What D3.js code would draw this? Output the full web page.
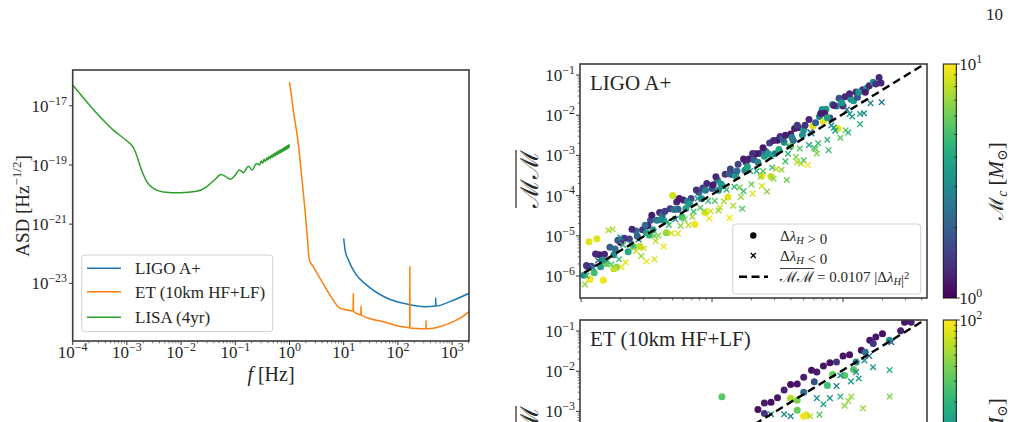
<!DOCTYPE html>
<html><head><meta charset="utf-8">
<script src="https://cdn.jsdelivr.net/npm/d3@7"></script>
<style>
body{margin:0;background:#fff;}
svg text{font-family:"Liberation Serif","DejaVu Serif",serif;fill:#262626;}
</style></head><body>
<svg id="c" width="1014" height="422"></svg>
<script>
// ================= DATA =================
const lisaFreq = [1e-4, 1.81e-4, 3.19e-4, 5.62e-4, 1e-3, 1.32e-3, 1.51e-3, 1.86e-3, 2.34e-3, 3.09e-3, 4.68e-3, 9.55e-3, 0.0195, 0.0295, 0.0422, 0.0545, 0.0676, 0.0822, 0.1, 0.1186, 0.1413, 0.1738, 0.206, 0.245,
  0.28, 0.30, 0.32, 0.34, 0.36, 0.38, 0.40, 0.42, 0.44, 0.46, 0.48, 0.50, 0.52, 0.54, 0.56, 0.58, 0.60, 0.62, 0.64, 0.66, 0.68, 0.70, 0.72, 0.74, 0.76, 0.78, 0.80, 0.82, 0.84, 0.86, 0.88, 0.90, 0.92, 0.94, 0.96, 0.98, 1.00];
const lisaASD = [5.0e-17, 1.38e-17, 4.27e-18, 1.51e-18, 6.46e-19, 3.89e-19, 2.14e-19, 6.76e-20, 2.69e-20, 1.62e-20, 1.23e-20, 1.15e-20, 1.29e-20, 1.82e-20, 3.24e-20, 4.79e-20, 3.98e-20, 3.31e-20, 4.57e-20, 6.76e-20, 5.5e-20, 9.1e-20, 6.76e-20, 1.12e-19,
  1.0e-19, 1.355e-19, 1.15e-19, 1.55e-19, 1.31e-19, 1.75e-19, 1.47e-19, 1.95e-19, 1.62e-19, 2.14e-19, 1.78e-19, 2.34e-19, 1.94e-19, 2.54e-19, 2.10e-19, 2.74e-19, 2.26e-19, 2.94e-19, 2.42e-19, 3.16e-19, 2.59e-19, 3.36e-19, 2.75e-19, 3.56e-19, 2.92e-19, 3.77e-19, 3.08e-19, 3.98e-19, 3.24e-19, 4.18e-19, 3.40e-19, 4.40e-19, 3.57e-19, 4.60e-19, 3.74e-19, 4.81e-19, 3.91e-19];
const etFreq = [1.0, 1.175, 1.45, 1.68, 1.93, 2.13, 2.32, 2.75, 3.66, 5.59, 8.55, 14.4, 14.9, 15.0, 15.1, 18.6, 20.7, 20.9, 21.1, 35.2, 53.7, 95, 160, 165, 166, 167, 250, 316, 329, 330, 331, 400, 520, 912, 1400, 2050];
const etASD = [6.46e-17, 7.16e-18, 5.37e-19, 3.98e-20, 3.02e-21, 3.72e-22, 6.17e-23, 3.63e-23, 1.48e-23, 3.98e-24, 1.45e-24, 1.18e-24, 1.17e-24, 4.4e-24, 1.16e-24, 9.1e-25, 8.6e-25, 1.7e-24, 8.5e-25, 6.0e-25, 5.0e-25, 3.7e-25, 3.16e-25, 3.12e-25, 3.6e-23, 3.1e-25, 2.95e-25, 2.9e-25, 2.9e-25, 5.5e-25, 2.9e-25, 2.95e-25, 3.2e-25, 4.5e-25, 6.6e-25, 1.1e-24];
const ligoFreq = [10, 10.6, 12.2, 16.2, 26.6, 62, 145, 316, 495, 498, 501, 912, 2050];
const ligoASD = [3.3e-22, 1.33e-22, 6.2e-23, 2.2e-23, 8.7e-24, 3.2e-24, 2.0e-24, 1.62e-24, 1.7e-24, 3.2e-24, 1.7e-24, 2.4e-24, 4.6e-24];
const curveNames = ["LIGO A+", "ET (10km HF+LF)", "LISA (4yr)"];
const freqTickExps = [-4, -3, -2, -1, 0, 1, 2, 3];
const asdTickExps = [-17, -19, -21, -23];
const mmTickExps = [-1, -2, -3, -4, -5, -6];
const lamTickExps = [-2, -1, 0];
const fitCoef = 0.0107;
const fitLam = [0.005, 10];
const panelTitles = ["LIGO A+", "ET (10km HF+LF)"];
const mcRangeTop = [1, 10];
const mcRangeBottom = [1, 100];

// [|Δλ_H|, MM, M_c, sign of Δλ_H]
const ligoScatter = [
[0.0105,1.05e-6,3.0,1],[0.0107,6.2e-7,7.0,-1],[0.0112,1.7e-6,2.5,1],[0.0115,7.1e-6,9.0,1],[0.0117,8.3e-7,9.5,1],
[0.012,1.74e-6,1.5,1],[0.0126,1.2e-6,5.0,1],[0.0132,8.5e-6,9.0,1],[0.0135,2.45e-6,2.2,-1],[0.0141,1.7e-6,3.5,1],
[0.0148,7.9e-7,9.5,1],[0.0151,3.5e-6,1.3,1],[0.0158,2.4e-6,4.0,-1],[0.0162,1.38e-5,7.5,-1],[0.0174,1.45e-5,7.5,-1],
[0.0166,5.2e-6,2.0,1],[0.0178,3.4e-6,3.0,1],[0.0186,1.66e-6,6.5,1],[0.02,6.8e-6,1.2,1],[0.0204,1.66e-6,9.5,-1],
[0.0209,5.9e-6,4.5,-1],[0.0219,2.2e-6,9.0,-1],[0.02,9.1e-6,3.0,-1],[0.0234,8.3e-6,1.6,1],[0.0251,5.4e-6,5.5,1],
[0.0263,1.32e-5,2.4,1],[0.0282,5.4e-6,8.0,1],[0.0295,1.41e-5,1.4,1],[0.0316,2.3e-6,9.5,-1],[0.0316,1.2e-5,3.5,1],
[0.0339,2.45e-5,1.8,1],[0.0363,2.6e-6,9.0,-1],[0.0363,1.0e-5,6.0,-1],[0.038,2.45e-5,2.6,1],[0.0398,3.8e-5,1.3,1],
[0.0427,5.4e-6,9.5,-1],[0.0427,2.45e-5,4.0,1],[0.0447,1.2e-5,7.0,1],[0.0479,4.7e-5,1.5,1],[0.0501,1.0e-4,8.5,1],
[0.0525,2.6e-5,3.0,-1],[0.055,4.6e-5,2.0,1],[0.0575,1.78e-5,6.5,-1],[0.0603,7.8e-5,1.2,1],[0.0631,4.8e-5,3.8,1],
[0.0661,1.86e-5,8.0,-1],[0.0692,8.5e-5,1.6,1],[0.0724,4.0e-5,5.0,-1],[0.0741,1.95e-5,9.5,1],[0.0794,1.2e-4,2.2,1],
[0.0832,8.3e-5,3.2,1],[0.0871,4.1e-5,7.5,-1],[0.0912,2.0e-4,1.3,1],[0.0955,2.7e-5,9.5,-1],[0.1,1.5e-4,1.8,1],
[0.105,7.4e-5,5.5,-1],[0.11,2.45e-4,2.8,1],[0.115,5.0e-5,8.5,-1],[0.12,1.74e-4,4.2,1],[0.126,3.4e-4,1.4,1],
[0.132,9.3e-5,9.0,1],[0.136,2.8e-5,9.5,-1],[0.141,3.4e-4,1.2,1],[0.148,1.66e-4,4.5,-1],[0.158,6.0e-4,1.6,1],
[0.166,9.3e-5,7.0,-1],[0.17,4.7e-5,5.5,-1],[0.178,4.3e-4,3.0,1],[0.191,8.1e-4,1.2,1],[0.2,1.9e-4,6.0,-1],
[0.209,7.8e-4,2.0,1],[0.219,4.1e-4,4.0,-1],[0.229,1.12e-3,1.3,1],[0.24,1.74e-4,8.5,-1],[0.251,9.5e-4,3.5,1],
[0.263,1.26e-4,6.5,-1],[0.275,2.04e-3,1.5,1],[0.288,5.0e-4,5.0,-1],[0.302,1.1e-3,2.5,1],[0.316,2.4e-3,1.1,1],
[0.331,2.95e-3,1.4,1],[0.339,4.4e-4,7.0,-1],[0.355,2.14e-3,3.0,1],[0.372,2.45e-4,6.0,-1],[0.38,1.1e-3,4.5,-1],
[0.398,3.4e-3,1.2,1],[0.417,2.34e-3,2.2,1],[0.437,9.1e-4,6.5,-1],[0.457,4.9e-3,1.3,1],[0.479,6.2e-4,8.0,-1],
[0.501,4.3e-3,3.5,1],[0.501,7.6e-4,5.5,-1],[0.537,5.75e-4,9.5,-1],[0.562,3.8e-3,2.0,-1],[0.589,5.4e-3,9.0,1],
[0.603,1.55e-3,4.5,-1],[0.631,1.12e-3,6.5,-1],[0.661,9.3e-3,2.8,1],[0.692,1.38e-2,3.2,1],[0.708,6.9e-3,9.0,1],
[0.741,1.41e-2,3.5,1],[0.776,1.35e-3,5.0,-1],[0.794,8.5e-3,1.5,1],[0.832,1.86e-2,3.0,1],[0.871,4.1e-3,4.0,-1],
[0.912,4.7e-3,9.0,1],[0.933,2.63e-2,1.8,1],[0.955,2.75e-3,5.5,-1],[1.0,1.7e-2,1.3,1],[1.035,2.9e-2,1.3,1],
[1.047,4.2e-3,6.0,-1],[1.096,3.7e-3,4.5,-1],[1.148,2.5e-2,3.0,1],[1.202,2.3e-2,3.5,1],[1.259,3.8e-2,1.3,1],
[1.349,1.07e-2,3.8,-1],[1.349,6.0e-3,4.5,-1],[1.413,4.3e-2,1.3,1],[1.514,4.7e-2,3.5,1],[1.585,5.4e-2,1.3,1],
[1.698,6.6e-2,3.0,1],[1.884,8.7e-2,1.3,1],[1.95,6.3e-2,1.3,1],[1.972,2.1e-2,2.5,-1],[1.445,1.12e-2,3.2,-1],
[0.011,1.82e-6,1.4,1],[0.0123,1.62e-6,2.8,-1],[0.0138,3.4e-6,1.2,1],[0.0155,2.04e-6,6.0,1],[0.0182,4.7e-6,2.3,1],
[0.0195,2.6e-6,4.8,-1],[0.0214,8.7e-6,1.4,1],[0.024,6.2e-6,3.5,-1],[0.0269,9.8e-6,2.0,1],[0.0302,4.9e-6,8.5,-1],
[0.0324,1.78e-5,1.2,1],[0.0355,1.41e-5,4.0,1],[0.0389,1.02e-5,6.5,-1],[0.0417,3.3e-5,2.2,1],[0.0457,2.24e-5,3.5,-1],
[0.049,1.15e-5,8.5,-1],[0.0537,6.9e-5,1.3,1],[0.0589,2.95e-5,5.0,1],[0.0646,7.1e-5,2.6,1],[0.0708,3.0e-5,7.0,-1],
[0.0776,8.5e-5,3.2,-1],[0.0851,1.55e-4,1.5,1],[0.0933,7.4e-5,4.8,-1],[0.102,1.86e-4,1.2,1],[0.112,1.35e-4,3.0,1],
[0.123,7.2e-5,7.5,-1],[0.135,3.5e-4,2.0,1],[0.151,3.1e-4,3.5,1],[0.162,1.58e-4,6.0,-1],[0.182,6.8e-4,1.3,1],
[0.195,4.1e-4,4.2,-1],[0.214,1.1e-3,1.1,1],[0.234,2.95e-4,7.0,-1],[0.257,1.26e-3,2.4,1],[0.282,9.5e-4,3.8,-1],
[0.309,4.6e-4,8.0,-1],[0.347,2.57e-3,2.0,1],[0.389,1.62e-3,3.2,-1],[0.427,4.7e-3,1.2,1],[0.468,1.48e-3,5.5,-1],
[0.513,5.6e-3,1.4,1],[0.575,3.5e-3,3.0,-1],[0.646,2.0e-3,5.0,-1],[0.724,1.12e-2,1.2,1],[0.813,5.6e-3,3.0,-1],
[0.891,1.7e-2,2.6,1],[1.072,1.38e-2,2.5,-1],[1.175,9.3e-3,3.8,-1],[1.288,2.8e-2,1.8,1],
[0.011,1.02e-6,4.5,-1],[0.0129,3.55e-6,1.3,1],[0.0145,2.5e-6,3.2,1],[0.017,1.95e-6,5.5,-1],[0.0191,7.8e-6,1.8,1],
[0.0229,4.0e-6,4.0,1],[0.0245,1.45e-5,1.3,1],[0.0275,8.1e-6,2.8,-1],[0.0288,3.16e-6,7.0,-1],[0.0309,1.82e-5,2.2,1],
[0.0331,1.05e-5,4.5,1],[0.0347,3.24e-5,1.2,1],[0.0372,7.4e-6,8.0,-1],[0.0407,2.5e-5,3.0,1],[0.0437,4.1e-5,1.5,1],
[0.0468,1.86e-5,5.0,-1],[0.0513,4.5e-5,2.4,1],[0.0562,8.5e-5,1.2,1],[0.0617,2.57e-5,6.0,-1],[0.0676,6.2e-5,3.5,1],
[0.0759,1.38e-4,1.4,1],[0.0813,5.0e-5,5.5,-1],[0.0891,1.35e-4,2.6,1],[0.0977,4.1e-5,8.5,-1],[0.107,2.95e-4,1.3,1],
[0.117,1.95e-4,3.4,1],[0.129,1.41e-4,4.5,-1],[0.138,4.6e-4,1.6,1],[0.145,5.6e-5,7.5,-1],[0.155,4.1e-4,2.2,1],
[0.174,8.1e-4,1.2,1],[0.174,1.29e-4,5.0,-1],[0.186,5.25e-4,3.8,1],[0.204,1.12e-3,1.4,1],[0.204,1.12e-4,9.0,-1],
[0.224,6.8e-4,2.8,1],[0.245,1.55e-3,1.2,1],[0.245,4.1e-4,5.5,-1],[0.269,1.1e-3,3.5,1],[0.295,2.34e-3,1.3,1],
[0.295,2.63e-4,7.0,-1],[0.324,1.41e-3,4.0,1],[0.363,3.16e-3,1.2,1],[0.363,7.1e-4,5.0,-1],[0.407,2.8e-3,2.6,1],
[0.447,5.6e-3,1.5,1],[0.447,6.8e-4,7.5,-1],[0.49,3.24e-3,3.2,1],[0.55,7.8e-3,1.3,1],[0.55,1.82e-3,4.0,-1],
[0.617,6.5e-3,2.0,1],[0.617,1.45e-3,6.0,-1],[0.676,1.1e-2,1.2,1],[0.759,8.7e-3,3.6,1],[0.759,2.45e-3,4.5,-1],
[0.851,1.74e-2,1.3,1],[0.851,4.9e-3,3.8,-1],[0.977,2.04e-2,3.2,1],[1.122,3.4e-2,1.3,1],[1.122,1.07e-2,3.5,-1],
[1.318,3.7e-2,3.2,1],[1.479,3.7e-2,1.2,1],[1.622,2.0e-2,3.0,-1],[1.778,6.0e-2,1.4,1],[0.0263,4.2e-6,8.0,-1],
[0.055,1.15e-5,9.0,-1],[0.112,4.3e-5,7.0,-1],[0.282,3.0e-4,8.0,1],[0.24,3.1e-4,9.5,1],[0.0891,3.8e-5,9.0,1],
[0.0178,1.51e-6,8.0,1],[0.398,1.7e-3,6.0,1]
];
const etScatter = [
[3.16,0.186,1.2,1],[3.31,0.166,1.5,1],[2.95,0.166,1.3,1],[2.75,0.102,1.5,1],[2.26,0.059,10,1],
[2.34,0.0525,5,-1],[2.0,0.085,1.2,1],[1.78,0.071,1.3,1],[1.6,0.059,1.3,1],[1.7,0.049,2.0,1],
[1.38,0.033,1.2,1],[1.455,0.0186,10,-1],[1.585,0.024,6,-1],[1.694,0.0126,10,-1],[2.27,0.0107,20,-1],
[2.27,2.34e-3,40,-1],[1.156,2.34e-3,50,-1],[1.422,1.2e-3,50,-1],[1.028,1.38e-3,45,-1],[1.096,1.82e-3,50,-1],
[1.03,7.8e-3,30,1],[1.202,0.011,30,1],[1.259,0.017,8,1],[1.148,5.6e-3,12,-1],[0.119,2.3e-3,30,1],
[0.224,1.12e-3,1.2,1],[0.251,1.62e-3,1.4,1],[0.282,1.7e-3,1.2,1],[0.316,2.19e-3,1.3,1],[0.355,3.4e-3,1.5,1],
[0.398,4.7e-3,1.2,1],[0.447,4.8e-3,1.3,1],[0.501,7.1e-3,1.5,1],[0.575,0.0105,1.2,1],[0.631,9.5e-3,1.4,1],
[0.708,0.0135,1.3,1],[0.794,0.0162,1.2,1],[0.891,0.017,2.0,1],[1.0,0.024,1.3,1],[1.122,0.0257,1.2,1],
[0.525,8.1e-4,80,1],[0.501,7.6e-4,90,1],[0.447,1.07e-3,35,1],[0.398,2.14e-3,60,1],[0.355,8.5e-4,10,-1],
[0.316,4.3e-4,12,-1],[0.398,7.6e-4,8,-1],[0.631,2.14e-3,10,-1],[0.708,1.51e-3,15,-1],[0.794,2.14e-3,12,-1],
[0.891,4.3e-3,8,-1],[0.562,7.6e-4,60,-1],[0.661,8.3e-4,30,-1],[0.759,4.4e-3,25,1],[0.832,8.3e-3,35,1],
[0.955,7.8e-3,10,-1],[1.259,9.5e-3,8,-1],[0.501,3.0e-3,5,1],[0.603,5.5e-3,3,1],[0.282,8.5e-4,8,-1],
[0.251,8.9e-4,2,1],[0.447,1.9e-3,40,1],[0.955,2.34e-3,20,-1],[1.318,6.6e-3,15,-1],[1.479,0.0295,6,1]
];

// ================= DRAW =================
const svg = d3.select('#c');
const AX = '#333';
const SPINE = '#3c3c3c';
const MINUS = '\u2212';
function addPow(t, e, fs) {
  t.append('tspan').text('10');
  t.append('tspan').attr('font-size', fs * 0.7).attr('dy', -fs * 0.42).text(e < 0 ? MINUS + (-e) : '' + e);
}
const defs = svg.append('defs');

svg.append('text').attr('x', 1003).attr('y', 20).attr('text-anchor', 'end').attr('font-size', 17).text('10');

// ---------- Left panel ----------
const xL = d3.scaleLog().domain([1e-4, 2048]).range([72.7, 469]);
const yL = d3.scaleLog().domain([Math.pow(10, -24.95), Math.pow(10, -15.79)]).range([341, 70]);
defs.append('clipPath').attr('id', 'clipL').append('rect').attr('x', 72.7).attr('y', 70).attr('width', 396.3).attr('height', 271);
const gL = svg.append('g');
const lineL = d3.line().x(d => xL(d[0])).y(d => yL(d[1])).curve(d3.curveMonotoneX);
const series = [
  {f: ligoFreq, a: ligoASD, c: '#1f77b4'},
  {f: etFreq, a: etASD, c: '#ff7f0e'},
  {f: lisaFreq, a: lisaASD, c: '#2ca02c'}
];
const gCurves = gL.append('g').attr('clip-path', 'url(#clipL)');
series.forEach(s => {
  gCurves.append('path').datum(s.f.map((f, i) => [f, s.a[i]]))
    .attr('d', lineL).attr('fill', 'none').attr('stroke', s.c).attr('stroke-width', 1.5);
});
freqTickExps.forEach(e => {
  const x = xL(Math.pow(10, e));
  gL.append('line').attr('x1', x).attr('x2', x).attr('y1', 341).attr('y2', 345).attr('stroke', AX).attr('stroke-width', 1);
  const t = gL.append('text').attr('x', x).attr('y', 358).attr('text-anchor', 'middle').attr('font-size', 17);
  addPow(t, e, 17);
  for (let m = 2; m <= 9; m++) {
    const v = m * Math.pow(10, e);
    if (v > 2048) continue;
    const xm = xL(v);
    gL.append('line').attr('x1', xm).attr('x2', xm).attr('y1', 341).attr('y2', 343.3).attr('stroke', AX).attr('stroke-width', 0.7);
  }
});
asdTickExps.forEach(e => {
  const y = yL(Math.pow(10, e));
  gL.append('line').attr('x1', 72.7).attr('x2', 69).attr('y1', y).attr('y2', y).attr('stroke', AX).attr('stroke-width', 1);
  const t = gL.append('text').attr('x', 67).attr('y', y + 6).attr('text-anchor', 'end').attr('font-size', 17);
  addPow(t, e, 17);
});
gL.append('rect').attr('x', 72.7).attr('y', 70).attr('width', 396.3).attr('height', 271)
  .attr('fill', 'none').attr('stroke', SPINE).attr('stroke-width', 1.6);
const xlab = gL.append('text').attr('x', 271).attr('y', 381).attr('text-anchor', 'middle').attr('font-size', 20);
xlab.append('tspan').attr('font-style', 'italic').text('f');
xlab.append('tspan').text(' [Hz]');
const ylab = gL.append('text').attr('transform', 'translate(29,206) rotate(-90)').attr('text-anchor', 'middle').attr('font-size', 19);
ylab.append('tspan').text('ASD [Hz');
ylab.append('tspan').attr('font-size', 13).attr('dy', -8).text(MINUS + '1/2');
ylab.append('tspan').attr('dy', 8).text(']');
const lg = gL.append('g');
lg.append('rect').attr('x', 81.7).attr('y', 255).attr('width', 191).attr('height', 76.7).attr('rx', 3)
  .attr('fill', 'white').attr('fill-opacity', 0.8).attr('stroke', '#d0d0d0').attr('stroke-width', 1);
const legY = [268.3, 291.7, 317.3];
series.forEach((s, i) => {
  lg.append('line').attr('x1', 87).attr('x2', 121).attr('y1', legY[i]).attr('y2', legY[i]).attr('stroke', s.c).attr('stroke-width', 1.5);
  lg.append('text').attr('x', 135).attr('y', legY[i] + 6).attr('font-size', 17).text(curveNames[i]);
});

// ---------- Right panels ----------
const VIEW_H = 432;
function scatterPanel(top, data, title, mcRange) {
  const bottom = top + 234;
  const x0 = 580, x1 = 927;
  const xs = d3.scaleLog().domain([Math.pow(10, -2.008), Math.pow(10, 0.641)]).range([x0, x1]);
  const ys = d3.scaleLog().domain([Math.pow(10, -6.547), Math.pow(10, -0.726)]).range([bottom, top]);
  const cs = d3.scaleLog().domain(mcRange).range([0, 1]).clamp(true);
  const id = 'clipR' + top;
  defs.append('clipPath').attr('id', id).append('rect').attr('x', x0).attr('y', top).attr('width', x1 - x0).attr('height', bottom - top);
  const g = svg.append('g');
  const gp = g.append('g').attr('clip-path', `url(#${id})`);
  const pos = data.filter(d => d[3] > 0), neg = data.filter(d => d[3] < 0);
  gp.selectAll('circle.p').data(pos).join('circle')
    .attr('cx', d => xs(d[0])).attr('cy', d => ys(d[1])).attr('r', 3.5)
    .attr('fill', d => d3.interpolateViridis(cs(d[2])));
  gp.selectAll('path.n').data(neg).join('path')
    .attr('transform', d => `translate(${xs(d[0])},${ys(d[1])})`)
    .attr('d', 'M-2.8,-2.8L2.8,2.8M-2.8,2.8L2.8,-2.8')
    .attr('stroke', d => d3.interpolateViridis(cs(d[2]))).attr('stroke-width', 1.4).attr('fill', 'none');
  gp.append('path').datum(fitLam.map(l => [l, fitCoef * l * l]))
    .attr('d', d3.line().x(d => xs(d[0])).y(d => ys(d[1])))
    .attr('stroke', '#000').attr('stroke-width', 2.4).attr('stroke-dasharray', '8,4.5').attr('fill', 'none');
  mmTickExps.forEach(e => {
    const y = ys(Math.pow(10, e));
    g.append('line').attr('x1', x0).attr('x2', x0 - 4).attr('y1', y).attr('y2', y).attr('stroke', AX);
    if (y < VIEW_H) {
      const t = g.append('text').attr('x', 575).attr('y', y + 6).attr('text-anchor', 'end').attr('font-size', 17);
      addPow(t, e, 17);
    }
    for (let m = 2; m <= 9; m++) {
      const ym = ys(m * Math.pow(10, e));
      if (ym < top) continue;
      g.append('line').attr('x1', x0).attr('x2', x0 - 2.3).attr('y1', ym).attr('y2', ym).attr('stroke', AX).attr('stroke-width', 0.7);
    }
  });
  lamTickExps.forEach(e => {
    const x = xs(Math.pow(10, e));
    g.append('line').attr('x1', x).attr('x2', x).attr('y1', bottom).attr('y2', bottom + 4).attr('stroke', AX);
    for (let m = 2; m <= 9; m++) {
      const xm = xs(m * Math.pow(10, e));
      if (xm > x1) continue;
      g.append('line').attr('x1', xm).attr('x2', xm).attr('y1', bottom).attr('y2', bottom + 2.3).attr('stroke', AX).attr('stroke-width', 0.7);
    }
  });
  g.append('rect').attr('x', x0).attr('y', top).attr('width', x1 - x0).attr('height', bottom - top)
    .attr('fill', 'none').attr('stroke', SPINE).attr('stroke-width', 1.6);
  g.append('text').attr('x', 590).attr('y', top + 26).attr('font-size', 21).text(title);
  const yl = g.append('g').attr('transform', `translate(538,${top + 115}) rotate(-90)`);
  const ylt = yl.append('text').attr('text-anchor', 'middle').attr('font-size', 25).attr('font-family', 'DejaVu Serif').text('\u2133\u2133');
  const w = ylt.node().getComputedTextLength();
  yl.append('line').attr('x1', -w / 2).attr('x2', w / 2).attr('y1', -22).attr('y2', -22).attr('stroke', '#262626').attr('stroke-width', 1.2);
  const gid = 'grad' + top;
  const grad = defs.append('linearGradient').attr('id', gid).attr('x1', 0).attr('x2', 0).attr('y1', 1).attr('y2', 0);
  d3.range(0, 1.0001, 0.05).forEach(t => grad.append('stop').attr('offset', t).attr('stop-color', d3.interpolateViridis(t)));
  const cbx = 943.3, cbw = 13;
  const cy = d3.scaleLog().domain(mcRange).range([bottom, top]);
  g.append('rect').attr('x', cbx).attr('y', top).attr('width', cbw).attr('height', bottom - top).attr('fill', `url(#${gid})`)
    .attr('stroke', '#111').attr('stroke-width', 1);
  const eMin = Math.round(Math.log10(mcRange[0])), eMax = Math.round(Math.log10(mcRange[1]));
  for (let e = eMin; e <= eMax; e++) {
    const y = cy(Math.pow(10, e));
    g.append('line').attr('x1', cbx + cbw).attr('x2', cbx + cbw + 3.5).attr('y1', y).attr('y2', y).attr('stroke', AX);
    if (y < VIEW_H) {
      const t = g.append('text').attr('x', cbx + cbw + 3).attr('y', y + 6).attr('font-size', 17);
      addPow(t, e, 17);
    }
    if (e < eMax) for (let m = 2; m <= 9; m++) {
      const ym = cy(m * Math.pow(10, e));
      g.append('line').attr('x1', cbx + cbw - 2.5).attr('x2', cbx + cbw + 1).attr('y1', ym).attr('y2', ym).attr('stroke', '#222').attr('stroke-width', 0.7);
    }
  }
  const cl = g.append('text').attr('transform', `translate(1003,${top + 117}) rotate(-90)`).attr('text-anchor', 'middle').attr('font-size', 21);
  cl.append('tspan').attr('font-family', 'DejaVu Serif').attr('font-size', 20).text('\u2133');
  cl.append('tspan').attr('font-style', 'italic').attr('font-size', 14).attr('dy', 4).text('c');
  cl.append('tspan').attr('dy', -4).text(' [');
  cl.append('tspan').attr('font-style', 'italic').text('M');
  cl.append('tspan').attr('font-size', 14).attr('dy', 4).text('\u2299');
  cl.append('tspan').attr('dy', -4).text(']');
  return {g, xs, ys};
}
const P1 = scatterPanel(64, ligoScatter, panelTitles[0], mcRangeTop);
const P2 = scatterPanel(320, etScatter, panelTitles[1], mcRangeBottom);

const lg2 = P1.g.append('g');
lg2.append('rect').attr('x', 732.7).attr('y', 224).attr('width', 188).attr('height', 70).attr('rx', 3)
  .attr('fill', 'white').attr('fill-opacity', 0.8).attr('stroke', '#d0d0d0');
lg2.append('circle').attr('cx', 753.3).attr('cy', 235.5).attr('r', 3.2).attr('fill', '#000');
lg2.append('path').attr('transform', 'translate(753.3,255.5)').attr('d', 'M-2.5,-2.5L2.5,2.5M-2.5,2.5L2.5,-2.5').attr('stroke', '#000').attr('stroke-width', 1.3);
lg2.append('line').attr('x1', 739).attr('x2', 768).attr('y1', 276.7).attr('y2', 276.7).attr('stroke', '#000').attr('stroke-width', 2.4).attr('stroke-dasharray', '8,4.5');
function dlh(t, fs) {
  t.append('tspan').text('\u0394');
  t.append('tspan').attr('font-style', 'italic').text('\u03bb');
  t.append('tspan').attr('font-style', 'italic').attr('font-size', fs * 0.7).attr('dy', 3).text('H');
  t.append('tspan').attr('dy', -3).text('');
}
const t1 = lg2.append('text').attr('x', 780).attr('y', 240.5).attr('font-size', 15); dlh(t1, 15); t1.append('tspan').text(' > 0');
const t2 = lg2.append('text').attr('x', 780).attr('y', 260.5).attr('font-size', 15); dlh(t2, 15); t2.append('tspan').text(' < 0');
const t3a = lg2.append('text').attr('x', 780).attr('y', 282).attr('font-size', 15).attr('font-family', 'DejaVu Serif').text('\u2133\u2133');
const w3 = t3a.node().getComputedTextLength();
lg2.append('line').attr('x1', 780).attr('x2', 780 + w3).attr('y1', 268.5).attr('y2', 268.5).attr('stroke', '#262626').attr('stroke-width', 0.9);
const t3 = lg2.append('text').attr('x', 783 + w3).attr('y', 282).attr('font-size', 15);
t3.append('tspan').text('= 0.0107 |');
dlh(t3, 15);
t3.append('tspan').text('|');
t3.append('tspan').attr('font-size', 10.5).attr('dy', -6).text('2');
</script>
</body></html>
